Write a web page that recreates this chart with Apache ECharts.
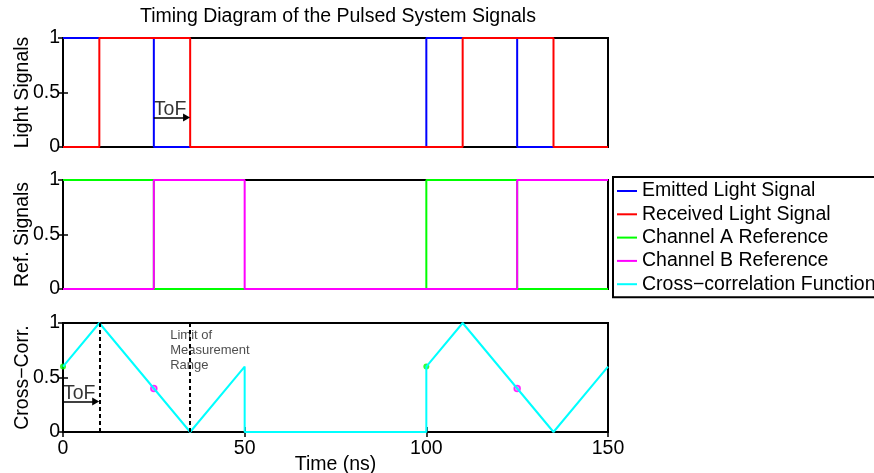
<!DOCTYPE html>
<html>
<head>
<meta charset="utf-8">
<script src="https://cdn.jsdelivr.net/npm/echarts@6/dist/echarts.min.js"></script>
<style>
  html, body { margin: 0; padding: 0; background: #fff; }
  #main { width: 874px; height: 473px; }
</style>
</head>
<body>
<div id="main"></div>
<script>
// time axis (ns) and signal level axis
const timeMin = 0, timeMax = 150, timeStep = 50;
const levelMin = 0, levelMax = 1, levelStep = 0.5;

// light signals: [time, level], level held until next point
const emittedLight = [[0, 1], [25, 0], [100, 1], [125, 0], [150, 0]];
const receivedLight = [[0, 0], [10, 1], [35, 0], [110, 1], [135, 0], [150, 0]];

// reference signals
const channelA = [[0, 1], [25, 0], [100, 1], [125, 0], [150, 0]];
const channelB = [[0, 0], [25, 1], [50, 0], [125, 1], [150, 1]];

// cross-correlation function
const crossCorr = [[0, 0.6], [10, 1], [35, 0], [50, 0.6], [50, 0], [100, 0], [100, 0.6], [110, 1], [135, 0], [150, 0.6]];
const samplesA = [[0, 0.6], [100, 0.6]];
const samplesB = [[25, 0.4], [125, 0.4]];

// annotations
const limitLines = [10, 35];
const tofTop = { from: 25, to: 34, y: 0.27, label: 0.34 };
const tofBottom = { from: 0, to: 9, y: 0.28, label: 0.35 };
const limitNote = { x: 29.5, y: 0.75, text: 'Limit of\nMeasurement\nRange' };

const FONT = "'Liberation Sans', Arial, sans-serif";
const FS = 19.5;
const names = ['Emitted Light Signal', 'Received Light Signal', 'Channel A Reference', 'Channel B Reference', 'Cross\u2212correlation Function'];
const colors = ['#0000ff', '#ff0000', '#00ff00', '#ff00ff', '#00ffff'];

const grids = [
  { left: 63, top: 38, width: 545, height: 109 },
  { left: 63, top: 180, width: 545, height: 109 },
  { left: 63, top: 323, width: 545, height: 109 }
];
const yNames = ['Light Signals', 'Ref. Signals', 'Cross\u2212Corr.'];

const tick = { show: true, inside: true, length: 5, lineStyle: { color: '#000', width: 1.5 } };

const xAxis = [], yAxis = [];
grids.forEach((g, i) => {
  xAxis.push({
    type: 'value', gridIndex: i, position: 'bottom',
    min: timeMin, max: timeMax, interval: timeStep,
    axisLine: { show: false }, axisTick: Object.assign({}, tick, { show: i === 2 }), splitLine: { show: false },
    axisLabel: { show: i === 2, color: '#000', fontSize: FS, fontFamily: FONT, margin: 7 },
    name: i === 2 ? 'Time (ns)' : '', nameLocation: 'middle', nameGap: 23, nameMoveOverlap: false,
    nameTextStyle: { color: '#000', fontSize: FS, fontFamily: FONT, verticalAlign: 'top' }
  });
  yAxis.push({
    type: 'value', gridIndex: i, position: 'left',
    min: levelMin, max: levelMax, interval: levelStep,
    axisLine: { show: false }, axisTick: tick, splitLine: { show: false },
    axisLabel: { color: '#000', fontSize: FS, fontFamily: FONT, margin: 3 },
    name: yNames[i], nameLocation: 'middle', nameGap: 30, nameMoveOverlap: false,
    nameTextStyle: { color: '#000', fontSize: FS, fontFamily: FONT }
  });
});
grids.forEach((g, i) => {
  xAxis.push({
    type: 'value', gridIndex: i, position: 'top',
    min: timeMin, max: timeMax, interval: timeStep,
    axisLine: { show: false }, axisTick: Object.assign({}, tick, { show: i === 2 }),
    splitLine: { show: false }, axisLabel: { show: false }
  });
  yAxis.push({
    type: 'value', gridIndex: i, position: 'right',
    min: levelMin, max: levelMax, interval: levelStep,
    axisLine: { show: false }, axisTick: tick, splitLine: { show: false }, axisLabel: { show: false }
  });
});

function stepLine(name, data, color, idx) {
  return {
    name, type: 'line', data, step: 'end', xAxisIndex: idx, yAxisIndex: idx,
    showSymbol: false, clip: false, lineStyle: { color, width: 2 }, itemStyle: { color }
  };
}

function arrow(tof, idx) {
  return {
    type: 'scatter', xAxisIndex: idx, yAxisIndex: idx, symbolSize: 0, silent: true,
    data: [{ name: 'ToF', value: [tof.from, tof.label] }],
    label: { show: true, position: 'right', distance: 0, formatter: '{b}', color: '#000', fontSize: FS, fontFamily: FONT },
    markLine: {
      silent: true, symbol: ['none', 'triangle'], symbolSize: [8, 7],
      label: { show: false },
      lineStyle: { color: '#000', width: 1.5, type: 'solid' },
      data: [[{ coord: [tof.from, tof.y] }, { coord: [tof.to, tof.y] }]]
    }
  };
}

const series = [
  stepLine(names[0], emittedLight, colors[0], 0),
  stepLine(names[1], receivedLight, colors[1], 0),
  arrow(tofTop, 0),
  stepLine(names[2], channelA, colors[2], 1),
  stepLine(names[3], channelB, colors[3], 1),
  {
    type: 'line', xAxisIndex: 2, yAxisIndex: 2, data: [], silent: true,
    markLine: {
      silent: true, symbol: ['none', 'none'], label: { show: false },
      lineStyle: { color: '#000', width: 2, type: [4, 3] },
      data: limitLines.map(x => [{ coord: [x, levelMin] }, { coord: [x, levelMax] }])
    }
  },
  {
    name: names[4], type: 'line', data: crossCorr, xAxisIndex: 2, yAxisIndex: 2,
    showSymbol: false, clip: false, lineStyle: { color: colors[4], width: 2 }, itemStyle: { color: colors[4] }
  },
  {
    type: 'scatter', xAxisIndex: 2, yAxisIndex: 2, data: samplesA, symbolSize: 6,
    itemStyle: { color: colors[2] }, clip: false
  },
  {
    type: 'scatter', xAxisIndex: 2, yAxisIndex: 2, data: samplesB, symbolSize: 6,
    itemStyle: { color: '#ff66ff', borderColor: colors[3], borderWidth: 1.5 }, clip: false
  },
  arrow(tofBottom, 2),
  {
    type: 'scatter', xAxisIndex: 2, yAxisIndex: 2, symbolSize: 0, silent: true,
    data: [{ name: limitNote.text, value: [limitNote.x, limitNote.y] }],
    label: { show: true, position: 'right', distance: 0, formatter: '{b}', color: '#222', fontSize: 13, lineHeight: 15, fontFamily: FONT }
  }
];

const chart = echarts.init(document.getElementById('main'), null, { renderer: 'canvas' });
chart.setOption({
  animation: false,
  backgroundColor: '#fff',
  title: {
    text: 'Timing Diagram of the Pulsed System Signals',
    left: 140, top: 7, padding: 0,
    textStyle: { color: '#000', fontSize: FS, fontWeight: 'normal', fontFamily: FONT }
  },
  grid: grids.map(g => Object.assign({ show: true, borderColor: '#000', borderWidth: 2, outerBoundsMode: 'none' }, g)),
  xAxis, yAxis,
  legend: {
    data: names, orient: 'vertical', left: 613, top: 177,
    padding: [4, 6, 3, 4], itemGap: 3.3, itemWidth: 20, itemHeight: 2, icon: 'rect',
    borderColor: '#000', borderWidth: 2, backgroundColor: '#fff',
    textStyle: { color: '#000', fontSize: FS, lineHeight: 19.5, fontFamily: FONT },
    selectedMode: false
  },
  series
});
</script>
</body>
</html>
